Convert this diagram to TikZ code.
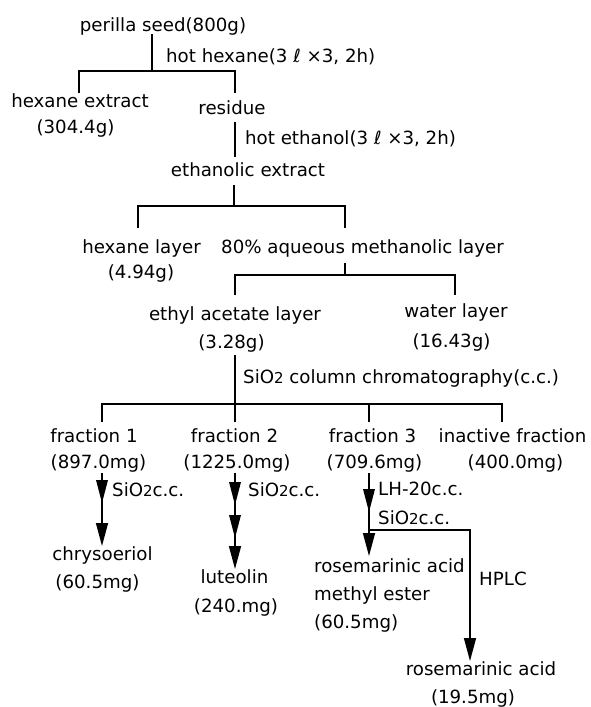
\documentclass[tikz,border=0pt]{standalone}
\usepackage{fontspec}
\setmainfont{DejaVu Sans}
\usetikzlibrary{decorations.markings,arrows.meta}
\newcommand{\myhead}{\fill (0pt,0pt) -- (-23pt,6pt) -- (-23pt,-6pt) -- cycle;}
\newcommand{\subtwo}{{\fontsize{15}{15}\selectfont 2}}
\begin{document}
\begin{tikzpicture}[x=1pt,y=-1pt,
  font=\fontsize{18.2}{20}\selectfont,
  lbl/.style={inner sep=0pt,anchor=base},
  lblw/.style={inner sep=0pt,anchor=base west},
  lble/.style={inner sep=0pt,anchor=base east},
  ln/.style={line width=1.5pt},
  arr/.style={ln,-{Triangle[length=23pt,width=12pt]}},
  heads/.style={postaction={decorate},decoration={markings,#1}}]
\fill[white] (0,0) rectangle (590,707);
\useasboundingbox (0,0) rectangle (590,707);

% texts
\node[lbl] (seed) at (163,31) {perilla seed(800g)};
\node[lblw] (hhex) at (166,62) {hot hexane(3 ℓ ×3, 2h)};
\node[lbl] (hexext) at (80,107) {hexane extract};
\node[lbl] (hexextw) at (75.5,133) {(304.4g)};
\node[lbl] (res) at (232,114) {residue};
\node[lblw] (heth) at (245,144) {hot ethanol(3 ℓ ×3, 2h)};
\node[lbl] (ethext) at (248,176) {ethanolic extract};
\node[lble] (hexlay) at (201,253) {hexane layer};
\node[lbl] (hexlayw) at (141,278) {(4.94g)};
\node[lblw] (meoh) at (221,253) {80\% aqueous methanolic layer};
\node[lbl] (etoac) at (235,320) {ethyl acetate layer};
\node[lbl] (etoacw) at (231.5,348) {(3.28g)};
\node[lbl] (water) at (456,317) {water layer};
\node[lbl] (waterw) at (451.5,347) {(16.43g)};
\node[lblw] (cc) at (243,383) {SiO\subtwo{} column chromatography(c.c.)};
\node[lbl] (f1) at (94,442) {fraction 1};
\node[lbl] (f1w) at (98.5,468) {(897.0mg)};
\node[lbl] (f2) at (234.5,442) {fraction 2};
\node[lbl] (f2w) at (237,468) {(1225.0mg)};
\node[lbl] (f3) at (372.5,442) {fraction 3};
\node[lbl] (f3w) at (374.5,468) {(709.6mg)};
\node[lbl] (fin) at (512.5,442) {inactive fraction};
\node[lbl] (finw) at (515.5,468) {(400.0mg)};
\node[lblw] (s1) at (112,496) {SiO\subtwo{}c.c.};
\node[lblw] (s2) at (248,496) {SiO\subtwo{}c.c.};
\node[lblw] (lh) at (378,495) {LH-20c.c.};
\node[lblw] (s3) at (378,524) {SiO\subtwo{}c.c.};
\node[lbl] (chrys) at (102.5,560) {chrysoeriol};
\node[lbl] (chrysw) at (97.5,588) {(60.5mg)};
\node[lbl] (lut) at (234.5,583) {luteolin};
\node[lbl] (lutw) at (236,612) {(240.mg)};
\node[lblw] (rme) at (314,572) {rosemarinic acid};
\node[lblw] (rme2) at (314,600) {methyl ester};
\node[lblw] (rmew) at (314,628) {(60.5mg)};
\node[lblw] (hplc) at (479,585) {HPLC};
\node[lbl] (ra) at (481,675) {rosemarinic acid};
\node[lbl] (raw) at (473,703) {(19.5mg)};

% junction coordinates
\coordinate (j1) at (152,71);
\coordinate (j2) at (234,206);
\coordinate (j3) at (345,275);
\coordinate (j4) at (235,404);
\coordinate (j5) at (369,530);

% connectors
\draw[ln] (152,34) -- (j1);
\draw[ln] (79,93) |- (j1) -| (235,93);
\draw[ln] (235,122) -- (235,157);
\draw[ln] (234,185) -- (j2);
\draw[ln] (138,228) |- (j2) -| (345,228);
\draw[ln] (345,263) -- (j3);
\draw[ln] (235,295) |- (j3) -| (455,295);
\draw[ln] (235,355) -- (j4) -- (235,422);
\draw[ln] (102,422) |- (j4) -| (502,422);
\draw[ln] (369,404) -- (369,422);

\draw[arr,heads={mark=at position 30pt with {\myhead}}] (102,473) -- (102,546);
\draw[arr,heads={mark=at position 32pt with {\myhead},mark=at position 65pt with {\myhead}}] (235,473) -- (235,569);
\draw[arr,heads={mark=at position 39pt with {\myhead}}] (369,473) -- (369,556);
\draw[arr] (j5) -| (470,661);
\end{tikzpicture}
\end{document}
